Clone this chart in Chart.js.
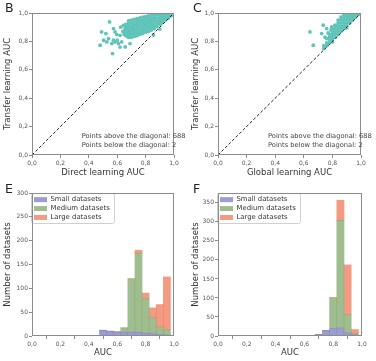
<!DOCTYPE html>
<html>
<head>
<meta charset="utf-8">
<script src="https://cdn.jsdelivr.net/npm/chart.js@4/dist/chart.umd.min.js"></script>
<style>
  html, body { margin: 0; padding: 0; background: #fff; }
  #wrap { position: relative; width: 376px; height: 361px; overflow: hidden; }
  canvas { position: absolute; }
</style>
</head>
<body>
<div id="wrap">
  <canvas id="chartB" width="188" height="180" style="left:0;top:0"></canvas>
  <canvas id="chartC" width="188" height="180" style="left:188px;top:0"></canvas>
  <canvas id="chartE" width="188" height="181" style="left:0;top:180px"></canvas>
  <canvas id="chartF" width="188" height="181" style="left:188px;top:180px"></canvas>
</div>
<script>
// ---- data ----
// B: direct learning AUC (x) vs transfer learning AUC (y)
const directVsTransfer = [
  [0.546,0.937],[0.49,0.867],[0.52,0.855],[0.574,0.89],[0.585,0.867],[0.597,0.848],[0.48,0.773],
  [0.504,0.808],[0.539,0.82],[0.562,0.785],[0.567,0.714],[0.585,0.796],[0.60,0.808],[0.62,0.843],
  [0.625,0.90],[0.644,0.913],[0.656,0.761],[0.667,0.867],[0.679,0.831],[0.69,0.785],[0.609,0.785],
  [0.632,0.796],[0.574,0.808],[0.703,0.902],[0.527,0.796],[0.649,0.85],[0.62,0.76],[0.64,0.87],
  [0.655,0.885],[0.67,0.905],
  [0.66,0.84],[0.66,0.86],[0.66,0.88],[0.66,0.90],[0.66,0.92],
  [0.68,0.83],[0.68,0.85],[0.68,0.87],[0.68,0.89],[0.68,0.91],[0.68,0.93],[0.68,0.945],
  [0.70,0.83],[0.70,0.85],[0.70,0.87],[0.70,0.89],[0.70,0.91],[0.70,0.93],[0.70,0.95],
  [0.72,0.835],[0.72,0.855],[0.72,0.875],[0.72,0.895],[0.72,0.915],[0.72,0.935],[0.72,0.955],
  [0.74,0.84],[0.74,0.86],[0.74,0.88],[0.74,0.90],[0.74,0.92],[0.74,0.94],[0.74,0.96],
  [0.76,0.85],[0.76,0.87],[0.76,0.89],[0.76,0.91],[0.76,0.93],[0.76,0.95],[0.76,0.965],
  [0.78,0.855],[0.78,0.875],[0.78,0.895],[0.78,0.915],[0.78,0.935],[0.78,0.955],[0.78,0.97],
  [0.80,0.865],[0.80,0.885],[0.80,0.905],[0.80,0.925],[0.80,0.945],[0.80,0.965],[0.80,0.975],
  [0.82,0.87],[0.82,0.89],[0.82,0.91],[0.82,0.93],[0.82,0.95],[0.82,0.97],[0.82,0.98],
  [0.84,0.88],[0.84,0.90],[0.84,0.92],[0.84,0.94],[0.84,0.96],[0.84,0.985],
  [0.86,0.89],[0.86,0.91],[0.86,0.93],[0.86,0.95],[0.86,0.97],[0.86,0.99],
  [0.88,0.905],[0.88,0.925],[0.88,0.945],[0.88,0.965],[0.88,0.99],
  [0.90,0.92],[0.90,0.94],[0.90,0.96],[0.90,0.98],[0.90,0.995],
  [0.92,0.935],[0.92,0.955],[0.92,0.975],[0.92,0.995],
  [0.94,0.95],[0.94,0.97],[0.94,0.99],[0.94,1.0],
  [0.96,0.965],[0.96,0.985],[0.96,1.0],
  [0.98,0.98],[0.98,0.995],
  [0.855,0.845],[0.90,0.887]
];

// C: global learning AUC (x) vs transfer learning AUC (y)
const globalVsTransfer = [
  [0.643,0.867],[0.666,0.773],[0.736,0.914],[0.76,0.89],[0.725,0.855],[0.748,0.83],[0.795,0.902],
  [0.818,0.914],[0.77,0.86],[0.79,0.88],
  [0.74,0.75],[0.74,0.77],
  [0.76,0.77],[0.76,0.79],[0.76,0.82],
  [0.78,0.79],[0.78,0.81],[0.78,0.83],[0.78,0.85],
  [0.80,0.81],[0.80,0.83],[0.80,0.85],[0.80,0.87],[0.80,0.89],
  [0.82,0.83],[0.82,0.85],[0.82,0.87],[0.82,0.89],[0.82,0.91],
  [0.84,0.85],[0.84,0.87],[0.84,0.89],[0.84,0.91],[0.84,0.93],[0.84,0.95],
  [0.86,0.87],[0.86,0.89],[0.86,0.91],[0.86,0.93],[0.86,0.95],[0.86,0.97],
  [0.88,0.89],[0.88,0.91],[0.88,0.93],[0.88,0.95],[0.88,0.97],[0.88,0.985],
  [0.90,0.91],[0.90,0.93],[0.90,0.95],[0.90,0.97],[0.90,0.99],
  [0.92,0.93],[0.92,0.95],[0.92,0.97],[0.92,0.99],[0.92,1.0],
  [0.94,0.95],[0.94,0.97],[0.94,0.99],[0.94,1.0],
  [0.96,0.97],[0.96,0.99],[0.96,1.0],
  [0.98,0.99],[0.98,1.0],
  [0.90,0.895],[0.80,0.796]
];

const diagonalNotes = ['Points above the diagonal: 688', 'Points below the diagonal: 2'];

// E: histogram of direct learning AUC (stacked)
const binsE = [0.45, 0.50, 0.55, 0.60, 0.65, 0.70, 0.75, 0.80, 0.85, 0.90, 0.95];
const smallE = [1, 12, 10, 8, 8, 8, 8, 6, 5, 3, 2];
const mediumE = [0, 0, 0, 1, 9, 112, 166, 72, 33, 16, 11];
const largeE = [0, 0, 0, 0, 0, 0, 6, 12, 21, 47, 111];

// F: histogram of transfer learning AUC (stacked)
const binsF = [0.60, 0.65, 0.70, 0.75, 0.80, 0.85, 0.90, 0.95];
const smallF = [1, 1, 4, 14, 20, 21, 8, 3];
const mediumF = [0, 0, 0, 1, 81, 283, 48, 3];
const largeF = [0, 0, 0, 0, 0, 53, 131, 11];

const aucTicks = [0, 0.2, 0.4, 0.6, 0.8, 1.0];

// ---- styling ----
const FONT = "'DejaVu Sans', sans-serif";
const TEAL = '#5fc4b9';
const FRAME = '#8c8c8c';
const groupColors = {
  small: 'rgba(128, 128, 200, 0.78)',
  medium: 'rgba(132, 170, 110, 0.78)',
  large: 'rgba(240, 125, 95, 0.78)'
};

const commaFmt = (v) => Number(v).toFixed(1).replace('.', ',');

// frame around plot area + panel letter
const framePlugin = {
  id: 'frame',
  afterDatasetsDraw(chart) {
    const { ctx, chartArea: a } = chart;
    ctx.save();
    ctx.strokeStyle = FRAME;
    ctx.lineWidth = 1;
    ctx.strokeRect(Math.round(a.left) + 0.5, Math.round(a.top) + 0.5,
      Math.round(a.width) - 1, Math.round(a.height) - 1);
    ctx.restore();
  },
  afterDraw(chart, args, opts) {
    if (!opts.letter) return;
    const ctx = chart.ctx;
    ctx.save();
    ctx.fillStyle = '#222';
    ctx.font = '12.5px ' + FONT;
    ctx.textBaseline = 'alphabetic';
    ctx.fillText(opts.letter, opts.x, opts.y);
    ctx.restore();
  }
};

// text notes placed in data coordinates
const notesPlugin = {
  id: 'notes',
  afterDatasetsDraw(chart, args, opts) {
    if (!opts.lines) return;
    const { ctx, scales } = chart;
    ctx.save();
    ctx.fillStyle = '#444';
    ctx.font = '6.7px ' + FONT;
    ctx.textBaseline = 'middle';
    opts.lines.forEach((t, i) => {
      ctx.fillText(t, scales.x.getPixelForValue(opts.x), scales.y.getPixelForValue(opts.y[i]));
    });
    ctx.restore();
  }
};

// white rounded box behind the legend
const legendBoxPlugin = {
  id: 'legendBox',
  beforeDraw(chart) {
    const lg = chart.legend;
    if (!lg || !lg.legendHitBoxes || !lg.legendHitBoxes.length) return;
    let x0 = Infinity, y0 = Infinity, x1 = -Infinity, y1 = -Infinity;
    lg.legendHitBoxes.forEach(b => {
      x0 = Math.min(x0, b.left); y0 = Math.min(y0, b.top);
      x1 = Math.max(x1, b.left + b.width); y1 = Math.max(y1, b.top + b.height);
    });
    const ctx = chart.ctx;
    ctx.save();
    ctx.fillStyle = 'rgba(255,255,255,0.9)';
    ctx.strokeStyle = '#d0d0d0';
    ctx.lineWidth = 1;
    ctx.beginPath();
    ctx.roundRect(Math.round(x0 - 3) + 0.5, Math.round(y0 - 3) + 0.5, Math.round(x1 - x0 + 7), Math.round(y1 - y0 + 5), 2);
    ctx.fill();
    ctx.stroke();
    ctx.restore();
  }
};

function axis(opts) {
  return {
    type: 'linear',
    min: opts.min,
    max: opts.max,
    afterFit: opts.afterFit,
    afterBuildTicks: opts.tickValues ? (s) => { s.ticks = opts.tickValues.map(v => ({ value: v })); } : undefined,
    ticks: {
      stepSize: opts.step,
      includeBounds: false,
      autoSkip: false,
      maxRotation: 0,
      padding: opts.tickPad,
      color: '#555',
      font: { size: 6, family: FONT },
      callback: opts.fmt
    },
    grid: { drawOnChartArea: false, drawTicks: true, tickLength: 3, color: FRAME },
    border: { display: false },
    title: {
      display: true,
      text: opts.title,
      color: '#333',
      font: { size: 8.5, family: FONT },
      padding: opts.titlePad
    }
  };
}

function scatterChart(id, points, xTitle, letter, yWidth, padRight) {
  return new Chart(document.getElementById(id), {
    type: 'scatter',
    data: {
      datasets: [
        {
          type: 'line',
          data: [{ x: 0, y: 0 }, { x: 1, y: 1 }],
          borderColor: '#222',
          borderWidth: 1,
          borderDash: [3, 2],
          pointRadius: 0,
          order: 0
        },
        {
          data: points.map(p => ({ x: p[0], y: p[1] })),
          backgroundColor: TEAL,
          borderWidth: 0,
          pointRadius: 1.9,
          order: 1
        }
      ]
    },
    options: {
      responsive: false,
      animation: false,
      layout: { padding: { top: 13, right: padRight, left: 0, bottom: 0 } },
      scales: {
        x: axis({ min: 0, max: 1, tickValues: aucTicks, fmt: commaFmt, title: xTitle, tickPad: 2,
          titlePad: { top: 0, bottom: 2 }, afterFit: s => { s.height = 25; } }),
        y: axis({ min: 0, max: 1, tickValues: aucTicks, fmt: commaFmt, title: 'Transfer learning AUC', tickPad: 1,
          titlePad: { top: 3, bottom: 0 }, afterFit: s => { s.width = yWidth; } })
      },
      plugins: {
        legend: { display: false },
        tooltip: { enabled: false },
        frame: { letter: letter, x: 5, y: 12 },
        notes: { lines: diagonalNotes, x: 0.35, y: [0.134, 0.072] }
      }
    },
    plugins: [framePlugin, notesPlugin]
  });
}

function histChart(id, bins, small, medium, large, yMax, letter, yWidth, padRight) {
  const toXY = (arr) => arr.map((v, i) => ({ x: bins[i], y: v }));
  const barStyle = { borderWidth: 0, barPercentage: 1, categoryPercentage: 1 };
  return new Chart(document.getElementById(id), {
    type: 'bar',
    data: {
      datasets: [
        Object.assign({ label: 'Small datasets', data: toXY(small), backgroundColor: groupColors.small }, barStyle),
        Object.assign({ label: 'Medium datasets', data: toXY(medium), backgroundColor: groupColors.medium }, barStyle),
        Object.assign({ label: 'Large datasets', data: toXY(large), backgroundColor: groupColors.large }, barStyle)
      ]
    },
    options: {
      responsive: false,
      animation: false,
      layout: { padding: { top: 13, right: padRight, left: 0, bottom: 0 } },
      scales: {
        x: Object.assign(axis({ min: 0, max: 1, tickValues: aucTicks, fmt: commaFmt, title: 'AUC', tickPad: 2,
          titlePad: { top: 0, bottom: 3 }, afterFit: s => { s.height = 25; } }), { stacked: true, offset: false }),
        y: Object.assign(axis({ min: 0, max: yMax, step: 50, title: 'Number of datasets', tickPad: 1,
          titlePad: { top: 3, bottom: 0 }, afterFit: s => { s.width = yWidth; } }), { stacked: true })
      },
      plugins: {
        tooltip: { enabled: false },
        legend: {
          position: 'chartArea',
          align: 'start',
          // empty title only pushes the entries down into the plot area
          title: { display: true, text: ' ', font: { size: 1 }, padding: { top: 13, bottom: 0 } },
          labels: {
            boxWidth: 13,
            boxHeight: 5,
            padding: 2,
            color: '#333',
            font: { size: 6.9, family: FONT }
          }
        },
        frame: { letter: letter, x: 5, y: 13 }
      }
    },
    plugins: [legendBoxPlugin, framePlugin]
  });
}

scatterChart('chartB', directVsTransfer, 'Direct learning AUC', 'B', 32, 14);
scatterChart('chartC', globalVsTransfer, 'Global learning AUC', 'C', 30, 15);
histChart('chartE', binsE, smallE, mediumE, largeE, 300, 'E', 32, 14);
histChart('chartF', binsF, smallF, mediumF, largeF, 376, 'F', 30, 14);
</script>
</body>
</html>
